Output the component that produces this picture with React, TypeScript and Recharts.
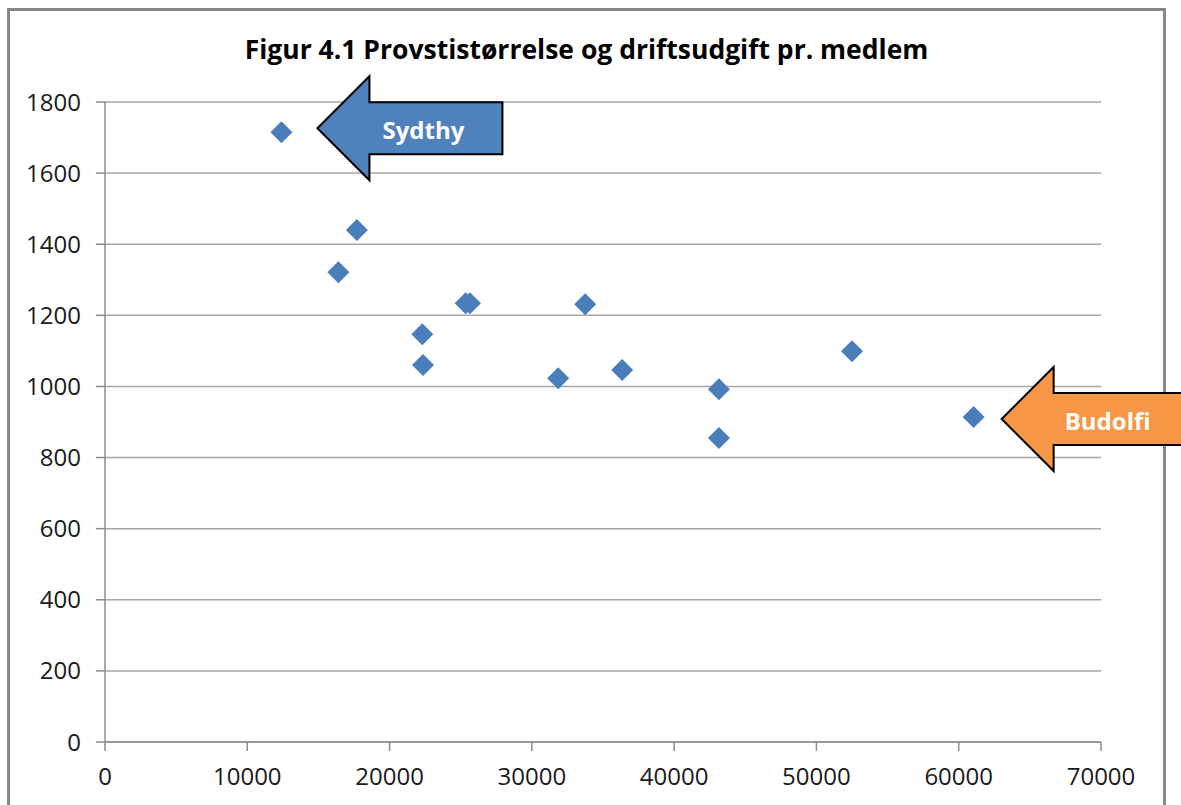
import React from "react";
import {
  ScatterChart,
  Scatter,
  XAxis,
  YAxis,
  CartesianGrid,
  ReferenceDot,
} from "recharts";

// medlemmer pr. provsti (x) og driftsudgift pr. medlem (y)
const members = [
  12400, 17700, 16400, 22300, 22350, 25350, 25650, 33750, 31850, 36350,
  43150, 43150, 52500, 61050,
];
const costPerMember = [
  1715, 1440, 1321, 1147, 1060, 1234, 1234, 1231, 1023, 1046, 992, 855, 1099,
  914,
];
const xTicks = [0, 10000, 20000, 30000, 40000, 50000, 60000, 70000];
const yTicks = [0, 200, 400, 600, 800, 1000, 1200, 1400, 1600, 1800];

const callouts = [
  { label: "Sydthy", x: 12400, y: 1715, fill: "#4f81bd", dx: 36, dy: -4, len: 185 },
  { label: "Budolfi", x: 61050, y: 914, fill: "#f79646", dx: 28, dy: 2, len: 200 },
];

const data = members.map((m, i) => ({ x: m, y: costPerMember[i] }));

const FONT = "'Open Sans', 'Noto Sans', sans-serif";

const Diamond = (props: any) => {
  const { cx, cy } = props;
  const r = 11;
  return (
    <polygon
      points={`${cx},${cy - r} ${cx + r},${cy} ${cx},${cy + r} ${cx - r},${cy}`}
      fill="#4a7ebb"
    />
  );
};

const arrowShape = (c: (typeof callouts)[number]) => (props: any) => {
  const tx = props.cx + c.dx;
  const ty = props.cy + c.dy;
  const head = 52;
  const hh = 52;
  const sh = 26;
  const end = tx + c.len;
  const pts = [
    [tx, ty],
    [tx + head, ty - hh],
    [tx + head, ty - sh],
    [end, ty - sh],
    [end, ty + sh],
    [tx + head, ty + sh],
    [tx + head, ty + hh],
  ]
    .map((p) => p.join(","))
    .join(" ");
  return (
    <g>
      <polygon points={pts} fill={c.fill} stroke="#000" strokeWidth={2} />
      <text
        x={tx + 106}
        y={ty + 11}
        textAnchor="middle"
        fill="#fff"
        fontFamily={FONT}
        fontWeight="bold"
        fontSize={24}
      >
        {c.label}
      </text>
    </g>
  );
};

export default function App() {
  return (
    <div
      style={{
        position: "absolute",
        left: 0,
        top: 0,
        width: 1181,
        height: 805,
        overflow: "hidden",
        background: "#fff",
      }}
    >
      <div
        style={{
          position: "absolute",
          left: 7,
          top: 8,
          width: 1153,
          height: 820,
          border: "3px solid #878787",
        }}
      />
      <div
        style={{
          position: "absolute",
          left: 0,
          top: 31,
          width: 1173,
          textAlign: "center",
          fontFamily: FONT,
          fontWeight: "bold",
          fontSize: 26.5,
          color: "#000",
          whiteSpace: "nowrap",
        }}
      >
        Figur 4.1 Provstistørrelse og driftsudgift pr. medlem
      </div>
      <ScatterChart
        width={1181}
        height={805}
        margin={{ top: 102, right: 80, bottom: 23, left: 25 }}
        style={{ position: "absolute", left: 0, top: 0 }}
      >
        <CartesianGrid vertical={false} stroke="#a6a6a6" strokeWidth={1.5} />
        <XAxis
          type="number"
          dataKey="x"
          domain={[0, 70000]}
          ticks={xTicks}
          interval={0}
          height={40}
          stroke="#8c8c8c"
          strokeWidth={1.5}
          tickSize={9}
          tickMargin={17}
          tick={{ fill: "#1a1a1a", fontSize: 24, fontFamily: FONT }}
        />
        <YAxis
          type="number"
          dataKey="y"
          domain={[0, 1800]}
          ticks={yTicks}
          interval={0}
          width={80}
          stroke="#8c8c8c"
          strokeWidth={1.5}
          tickSize={9}
          tickMargin={15}
          tick={{ fill: "#1a1a1a", fontSize: 24, fontFamily: FONT }}
        />
        <Scatter data={data} shape={Diamond} isAnimationActive={false} />
        {callouts.map((c) => (
          <ReferenceDot
            key={c.label}
            x={c.x}
            y={c.y}
            r={0}
            shape={arrowShape(c)}
          />
        ))}
      </ScatterChart>
    </div>
  );
}
